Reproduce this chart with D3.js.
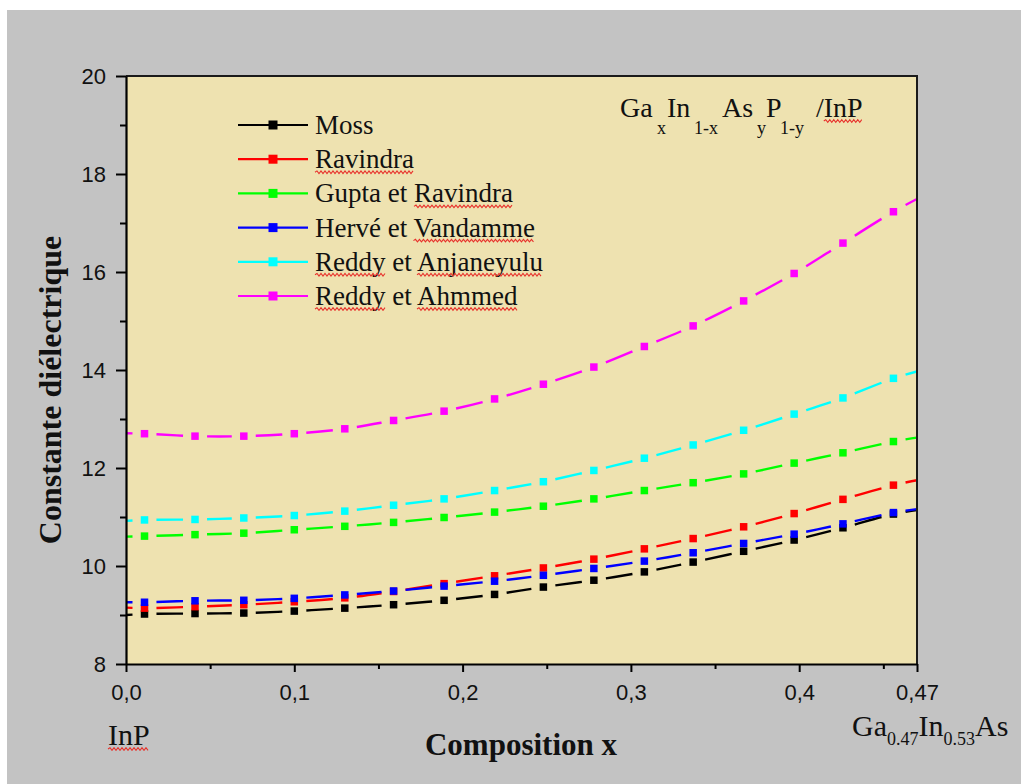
<!DOCTYPE html>
<html>
<head>
<meta charset="utf-8">
<script src="https://cdn.jsdelivr.net/npm/d3@7"></script>
<style>
  html, body { margin: 0; padding: 0; background: #ffffff; }
  svg { display: block; }
</style>
</head>
<body>
<svg id="chart" width="1021" height="784"></svg>
<script>
// Composition x of the sampled points (ends of the curves plus symbol positions)
const compositionX = [0.000, 0.011, 0.041, 0.070, 0.100, 0.130, 0.159, 0.189, 0.219,
                      0.248, 0.278, 0.308, 0.337, 0.367, 0.397, 0.426, 0.456, 0.470];

// Dielectric constant for each model
const moss        = [9.00, 9.02, 9.03, 9.04, 9.08, 9.14, 9.21, 9.30, 9.42,
                     9.57, 9.71, 9.88, 10.08, 10.30, 10.53, 10.78, 11.06, 11.14];
const ravindra    = [9.15, 9.14, 9.17, 9.21, 9.27, 9.35, 9.48, 9.64, 9.80,
                     9.96, 10.14, 10.35, 10.56, 10.80, 11.07, 11.36, 11.65, 11.75];
const guptaRav    = [10.60, 10.61, 10.64, 10.67, 10.74, 10.81, 10.89, 10.99, 11.10,
                     11.22, 11.37, 11.54, 11.70, 11.88, 12.10, 12.31, 12.54, 12.62];
const herveVand   = [9.26, 9.26, 9.29, 9.30, 9.34, 9.41, 9.49, 9.59, 9.69,
                     9.81, 9.95, 10.10, 10.27, 10.46, 10.65, 10.86, 11.09, 11.16];
const reddyAnj    = [10.92, 10.94, 10.95, 10.98, 11.03, 11.12, 11.24, 11.37, 11.54,
                     11.72, 11.95, 12.20, 12.47, 12.77, 13.10, 13.43, 13.83, 13.97];
const reddyAhm    = [12.71, 12.70, 12.65, 12.65, 12.70, 12.80, 12.97, 13.16, 13.41,
                     13.71, 14.06, 14.48, 14.90, 15.41, 15.97, 16.59, 17.23, 17.49];

const seriesNames  = ["Moss", "Ravindra", "Gupta et Ravindra", "Hervé et Vandamme",
                      "Reddy et Anjaneyulu", "Reddy et Ahmmed"];
const seriesValues = [moss, ravindra, guptaRav, herveVand, reddyAnj, reddyAhm];
const seriesColors = ["#000000", "#ff0000", "#00ff00", "#0000ff", "#00ffff", "#ff00ff"];
// words flagged by the spell checker in each legend entry
const flaggedWords = [[], ["Ravindra"], ["Ravindra"], ["Vandamme"],
                      ["Reddy", "Anjaneyulu"], ["Reddy", "Ahmmed"]];

const yMajorTicks = [8, 10, 12, 14, 16, 18, 20];
const yMinorTicks = [9, 11, 13, 15, 17, 19];
const xMajorTicks = [0, 0.1, 0.2, 0.3, 0.4, 0.47];
const xTickLabels = ["0,0", "0,1", "0,2", "0,3", "0,4", "0,47"];
const xMinorTicks = [0.05, 0.15, 0.25, 0.35, 0.45];

const W = 1021, H = 784;
const plot = { left: 126, right: 917, top: 76, bottom: 664 };
const SERIF = "'Liberation Serif', 'Times New Roman', serif";
const SANS = "'Liberation Sans', Arial, sans-serif";

const svg = d3.select("#chart");
const defs = svg.append("defs");

// page background
svg.append("rect").attr("x", 7).attr("y", 10).attr("width", W - 7).attr("height", H - 10)
  .attr("fill", "#c3c3c3");

const x = d3.scaleLinear().domain([0, 0.47]).range([plot.left, plot.right]);
const y = d3.scaleLinear().domain([8, 20]).range([plot.bottom, plot.top]);

// plot area
svg.append("rect")
  .attr("x", plot.left).attr("y", plot.top)
  .attr("width", plot.right - plot.left).attr("height", plot.bottom - plot.top)
  .attr("fill", "#eee2b0");

// curves, broken around each symbol
const line = d3.line()
  .x(d => x(d.x)).y(d => y(d.v))
  .curve(d3.curveCatmullRom.alpha(0.5));
const GAP = 12, SYM = 7.5;

defs.append("clipPath").attr("id", "plotClip").append("rect")
  .attr("x", plot.left).attr("y", plot.top)
  .attr("width", plot.right - plot.left).attr("height", plot.bottom - plot.top);

const seriesLayer = svg.append("g").attr("clip-path", "url(#plotClip)");

// length along the path at which it reaches a given horizontal position
function lengthAtX(node, total, px) {
  let lo = 0, hi = total;
  for (let k = 0; k < 40; k++) {
    const mid = (lo + hi) / 2;
    if (node.getPointAtLength(mid).x < px) lo = mid; else hi = mid;
  }
  return (lo + hi) / 2;
}

seriesValues.forEach((vals, i) => {
  const pts = compositionX.map((cx, k) => ({ x: cx, v: vals[k] }));
  const sym = pts.slice(1, pts.length - 1);

  const g = seriesLayer.append("g");
  const path = g.append("path").datum(pts)
    .attr("d", line)
    .attr("fill", "none")
    .attr("stroke", seriesColors[i])
    .attr("stroke-width", 2.4);

  const node = path.node();
  const total = node.getTotalLength();
  const dashes = [];
  let pos = 0;
  sym.forEach(d => {
    const a = lengthAtX(node, total, x(d.x) - GAP);
    const b = lengthAtX(node, total, x(d.x) + GAP);
    dashes.push(Math.max(0, a - pos), b - a);
    pos = b;
  });
  dashes.push(Math.max(0, total - pos) + 1, total + 10);
  path.attr("stroke-dasharray", dashes.map(v => v.toFixed(2)).join(" "));

  g.selectAll("rect.sym").data(sym).join("rect").attr("class", "sym")
    .attr("x", d => x(d.x) - SYM / 2).attr("y", d => y(d.v) - SYM / 2)
    .attr("width", SYM).attr("height", SYM)
    .attr("fill", seriesColors[i]);
});

// frame: top and right borders
svg.append("path")
  .attr("d", `M${plot.left},${plot.top}H${plot.right}V${plot.bottom}`)
  .attr("fill", "none").attr("stroke", "#1a1a1a").attr("stroke-width", 2);

// y axis
const yAxis = svg.append("g").attr("transform", `translate(${plot.left},0)`)
  .call(d3.axisLeft(y).tickValues(yMajorTicks).tickSize(10).tickSizeOuter(0).tickPadding(10)
    .tickFormat(d3.format("d")));
svg.append("g").attr("transform", `translate(${plot.left},0)`)
  .call(d3.axisLeft(y).tickValues(yMinorTicks).tickSize(6).tickFormat(""))
  .call(g => g.select(".domain").remove())
  .selectAll("line").attr("stroke-width", 2);
yAxis.select(".domain").attr("stroke-width", 2.2);
yAxis.selectAll("line").attr("stroke-width", 2);
yAxis.selectAll("text").attr("font-family", SANS).attr("font-size", 22).attr("fill", "#111");

// x axis
const xAxis = svg.append("g").attr("transform", `translate(0,${plot.bottom})`)
  .call(d3.axisBottom(x).tickValues(xMajorTicks).tickSize(8).tickSizeOuter(0).tickPadding(12)
    .tickFormat((d, i) => xTickLabels[i]));
svg.append("g").attr("transform", `translate(0,${plot.bottom})`)
  .call(d3.axisBottom(x).tickValues(xMinorTicks).tickSize(5).tickFormat(""))
  .call(g => g.select(".domain").remove())
  .selectAll("line").attr("stroke-width", 2);
xAxis.select(".domain").attr("stroke-width", 2.2);
xAxis.selectAll("line").attr("stroke-width", 2);
xAxis.selectAll("text").attr("font-family", SANS).attr("font-size", 22).attr("fill", "#111");

// red wavy spell-check underline
function squiggle(x0, x1, yy) {
  let d = `M${x0},${yy}`;
  let up = true;
  for (let px = x0 + 2; px <= x1; px += 2) {
    d += `L${px},${yy + (up ? -1.3 : 1.3)}`;
    up = !up;
  }
  svg.append("path").attr("d", d).attr("fill", "none")
    .attr("stroke", "#e8322c").attr("stroke-width", 1.1);
}
function flagWords(textNode, words, yy) {
  const str = textNode.textContent;
  let from = 0;
  words.forEach(w => {
    const idx = str.indexOf(w, from);
    if (idx < 0) return;
    from = idx + w.length;
    const x0 = textNode.getStartPositionOfChar(idx).x;
    const wl = textNode.getSubStringLength(idx, w.length);
    squiggle(x0, x0 + wl, yy);
  });
}

// legend
const legendTop = 125, legendStep = 34.2;
const legend = svg.append("g");
seriesNames.forEach((name, i) => {
  const cy = legendTop + i * legendStep;
  legend.append("line").attr("x1", 238).attr("x2", 308).attr("y1", cy).attr("y2", cy)
    .attr("stroke", seriesColors[i]).attr("stroke-width", 2.2);
  legend.append("rect").attr("x", 273 - 4.5).attr("y", cy - 4.5).attr("width", 9).attr("height", 9)
    .attr("fill", seriesColors[i]);
  const t = legend.append("text").attr("x", 315).attr("y", cy + 9)
    .attr("font-family", SERIF).attr("font-size", 27).attr("fill", "#111").text(name);
  flagWords(t.node(), flaggedWords[i], cy + 13);
});

// formula in the upper right corner
const formulaMain = [["Ga", 620], ["In", 667], ["As", 722], ["P", 766], ["/InP", 816]];
const formulaSub = [["x", 657], ["1-x", 694], ["y", 757], ["1-y", 780]];
formulaMain.forEach(([s, px]) => {
  const t = svg.append("text").attr("x", px).attr("y", 117)
    .attr("font-family", SERIF).attr("font-size", 28).attr("fill", "#111").text(s);
  if (s === "/InP") flagWords(t.node(), ["InP"], 121);
});
formulaSub.forEach(([s, px]) => {
  svg.append("text").attr("x", px).attr("y", 134)
    .attr("font-family", SERIF).attr("font-size", 18).attr("fill", "#111").text(s);
});

// end-member labels
const inp = svg.append("text").attr("x", 108).attr("y", 745)
  .attr("font-family", SERIF).attr("font-size", 30).attr("fill", "#111").text("InP");
flagWords(inp.node(), ["InP"], 749);

const gia = svg.append("text").attr("x", 852).attr("y", 736)
  .attr("font-family", SERIF).attr("font-size", 30).attr("fill", "#111");
gia.append("tspan").text("Ga");
gia.append("tspan").attr("font-size", 18).attr("dy", 9).text("0.47");
gia.append("tspan").attr("dy", -9).text("In");
gia.append("tspan").attr("font-size", 18).attr("dy", 9).text("0.53");
gia.append("tspan").attr("dy", -9).text("As");

// axis titles
svg.append("text").attr("x", 521).attr("y", 755).attr("text-anchor", "middle")
  .attr("font-family", SERIF).attr("font-weight", "bold").attr("font-size", 31)
  .attr("fill", "#111").text("Composition x");

svg.append("text").attr("transform", "translate(61,390) rotate(-90)")
  .attr("text-anchor", "middle")
  .attr("font-family", SERIF).attr("font-weight", "bold").attr("font-size", 32)
  .attr("fill", "#111").text("Constante diélectrique");
</script>
</body>
</html>
